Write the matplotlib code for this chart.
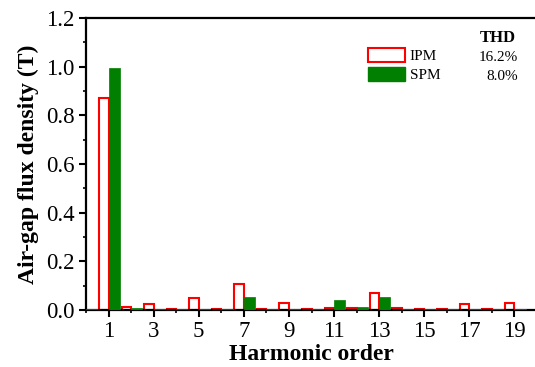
import matplotlib
matplotlib.use("Agg")
import matplotlib.pyplot as plt
import numpy as np
from matplotlib.patches import Patch
from matplotlib.ticker import MultipleLocator

# Harmonic spectrum of air-gap flux density
harmonics = np.arange(0, 20)
ipm_b = [0.0, 0.873, 0.014, 0.025, 0.006, 0.048, 0.006, 0.108, 0.006, 0.027,
         0.006, 0.010, 0.010, 0.071, 0.010, 0.006, 0.006, 0.025, 0.006, 0.027]
spm_b = [0.004, 0.993, 0.010, 0.006, 0.006, 0.004, 0.004, 0.052, 0.004, 0.006,
         0.006, 0.041, 0.011, 0.052, 0.006, 0.004, 0.004, 0.004, 0.004, 0.004]
series_names = ["IPM", "SPM"]
thd_values = ["16.2%", "8.0%"]

plt.rcParams['font.family'] = ['Liberation Serif', 'DejaVu Serif']

fig = plt.figure(figsize=(5.35, 3.67), dpi=100)
ax = fig.add_axes([86/535, 57/367, 451/535, 292/367])

ax.bar(harmonics, ipm_b, width=-0.42, align='edge', facecolor='white',
       edgecolor='#ff0000', linewidth=1.5, zorder=2)
ax.bar(harmonics, spm_b, width=0.5, align='edge', color='#007f00',
       edgecolor='#007f00', linewidth=0.5, zorder=3)

ax.set_xlim(0, 20)
ax.set_ylim(0, 1.2)
ax.set_xticks(np.arange(1, 20, 2))
ax.xaxis.set_minor_locator(MultipleLocator(1))
ax.yaxis.set_major_locator(MultipleLocator(0.2))
ax.yaxis.set_minor_locator(MultipleLocator(0.1))
ax.yaxis.set_major_formatter(matplotlib.ticker.FormatStrFormatter('%.1f'))

ax.tick_params(which='major', direction='out', length=5, width=1.5, labelsize=16.5, pad=3)
ax.tick_params(which='minor', direction='out', length=2.5, width=1.2)
for side in ['left', 'bottom', 'top']:
    ax.spines[side].set_linewidth(1.6)
ax.spines['right'].set_visible(False)

ax.set_xlabel('Harmonic order', fontsize=17, fontweight='bold', labelpad=1)
ax.set_ylabel('Air-gap flux density (T)', fontsize=17, fontweight='bold', labelpad=5)

# Legend with THD column
legend_elements = [
    Patch(facecolor='white', edgecolor='#ff0000', linewidth=1.5, label=series_names[0]),
    Patch(facecolor='#007f00', edgecolor='#007f00', label=series_names[1]),
]
ax.legend(handles=legend_elements, loc='upper left', bbox_to_anchor=(0.625, 0.897),
          frameon=False, fontsize=11, handlelength=2.4, handleheight=1.05,
          labelspacing=0.25, handletextpad=0.35, borderpad=0.0, borderaxespad=0.0)

ax.text(0.954, 0.905, 'THD', transform=ax.transAxes, ha='right', va='bottom',
        fontsize=12, fontweight='bold')
ax.text(0.957, 0.864, thd_values[0], transform=ax.transAxes, ha='right', va='center', fontsize=11)
ax.text(0.957, 0.799, thd_values[1], transform=ax.transAxes, ha='right', va='center', fontsize=11)

fig.savefig('out.png', dpi=100)
